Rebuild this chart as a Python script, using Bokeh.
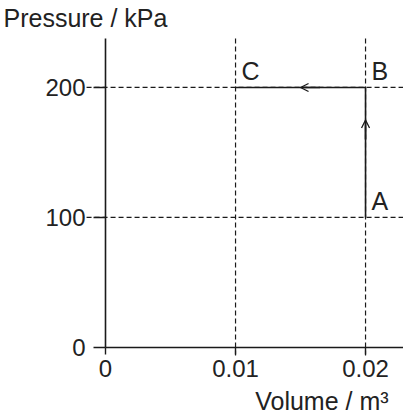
from bokeh.plotting import figure
from bokeh.models import Label, FixedTicker, Arrow, OpenHead, Range1d, ColumnDataSource
from bokeh.core.properties import value
from bokeh.embed import file_html
from bokeh.resources import INLINE

# ---- data ----
x_ticks = [0, 0.01, 0.02]
x_tick_labels = ["0", "0.01", "0.02"]
y_ticks = [0, 100, 200]
y_tick_labels = ["0", "100", "200"]
state_names = ["A", "B", "C"]
state_volume = [0.02, 0.02, 0.01]
state_pressure = [100, 200, 200]
x_title = "Volume / m³"
y_title = "Pressure / kPa"

# ---- layout constants (data units of the view) ----
X_LO, X_HI = -0.00808, 0.02292
Y_LO, Y_HI = -53.1, 266.9
AX_TOP = 237.7          # top end of axis / guides
GUIDE_LEFT = -0.00146   # left end of horizontal guides
GUIDE_BOTTOM = -6.2     # bottom end of vertical guides

FONT = "Liberation Sans"
INK = "#1a1a1a"
TXT = "#222222"

p = figure(width=403, height=416, output_backend="svg", toolbar_location=None,
           x_range=Range1d(X_LO, X_HI), y_range=Range1d(Y_LO, Y_HI),
           min_border=0)
p.outline_line_color = None
p.grid.visible = False
p.background_fill_color = "white"
p.border_fill_color = "white"

# axes fixed at origin
for ax, ticks, labels in ((p.xaxis[0], x_ticks, x_tick_labels), (p.yaxis[0], y_ticks, y_tick_labels)):
    ax.fixed_location = 0
    ax.ticker = FixedTicker(ticks=ticks)
    ax.major_label_overrides = {t: l for t, l in zip(ticks, labels)}
    ax.minor_tick_line_color = None
    ax.axis_line_color = INK
    ax.axis_line_width = 1.6
    ax.major_tick_line_color = INK
    ax.major_tick_line_width = 1.4
    ax.major_tick_in = 0
    ax.major_label_text_font = FONT
    ax.major_label_text_font_size = "24px"
    ax.major_label_text_color = TXT

p.yaxis.bounds = (0, AX_TOP)
p.xaxis.bounds = (0, X_HI)
p.yaxis.major_tick_out = 12
p.yaxis.major_label_standoff = 8
p.xaxis.major_tick_out = 7
p.xaxis.major_label_standoff = 6

# dashed guide lines through the state values
vx = sorted(set(state_volume))
hy = sorted(set(state_pressure))
p.segment(x0=vx, y0=[GUIDE_BOTTOM] * len(vx), x1=vx, y1=[AX_TOP] * len(vx),
          line_color=INK, line_width=1.2, line_dash="5 3")
p.segment(x0=[GUIDE_LEFT] * len(hy), y0=hy, x1=[X_HI] * len(hy), y1=hy,
          line_color=INK, line_width=1.2, line_dash="5 3")

# process path A -> B -> C
p.line(state_volume, state_pressure, line_color=INK, line_width=1.6)

# direction arrows
ax_, bx_, cx_ = state_volume
ay_, by_, cy_ = state_pressure
p.add_layout(Arrow(end=OpenHead(size=8, line_color=INK, line_width=1.3),
                   x_start=ax_, y_start=ay_ + 0.6 * (by_ - ay_),
                   x_end=bx_, y_end=ay_ + 0.75 * (by_ - ay_),
                   line_color=INK, line_width=1.6))
p.add_layout(Arrow(end=OpenHead(size=8, line_color=INK, line_width=1.3),
                   x_start=bx_ + 0.35 * (cx_ - bx_), y_start=by_,
                   x_end=bx_ + 0.5 * (cx_ - bx_), y_end=cy_,
                   line_color=INK, line_width=1.6))

# state labels
src = ColumnDataSource(dict(x=state_volume, y=state_pressure, t=state_names))
p.text(x="x", y="y", text="t", source=src, x_offset=6, y_offset=-16,
       text_baseline="alphabetic", text_align="left",
       text_font=value(FONT), text_font_size="25px", text_color=TXT)

# axis titles
p.add_layout(Label(x=-0.00785, y=253.5, text=y_title, text_font=FONT,
                   text_font_size="25px", text_color=TXT,
                   text_baseline="alphabetic", text_align="left"))
p.add_layout(Label(x=0.02177, y=-41.5, text=x_title, text_font=FONT,
                   text_font_size="25px", text_color=TXT,
                   text_baseline="alphabetic", text_align="right"))

open("out.html", "w").write(file_html(p, INLINE))
